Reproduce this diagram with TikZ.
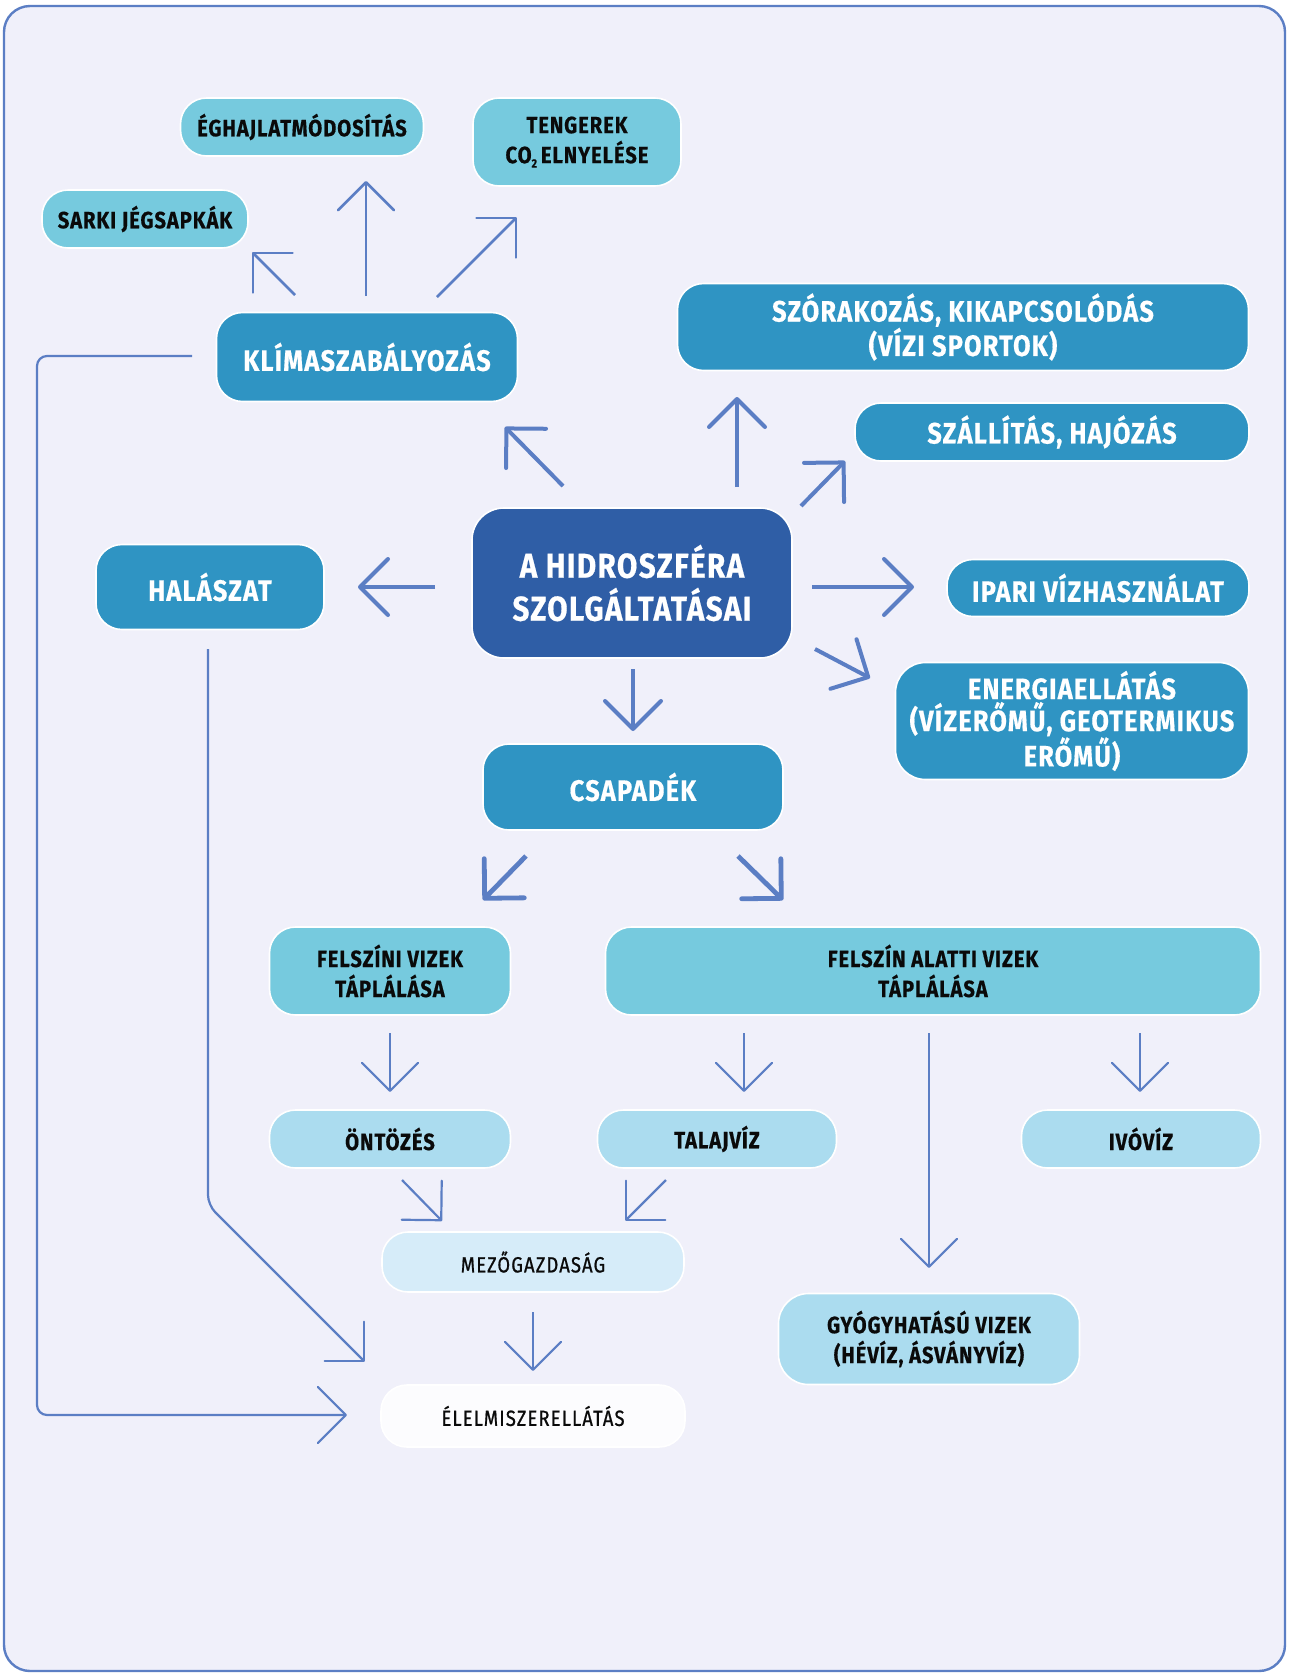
\documentclass[tikz,border=0pt]{standalone}
\usepackage{fontspec}
\setmainfont{Fira Sans}[FakeStretch=0.86, LetterSpace=4, FakeBold=0.5]
\newfontfamily\medf{Fira Sans}[FakeStretch=0.84, LetterSpace=5, FakeBold=0.8]
\usetikzlibrary{arrows.meta}
\definecolor{bg}{HTML}{F0F0FA}
\definecolor{ln}{HTML}{5B7EC4}
\definecolor{cdark}{HTML}{2F5EA6}
\definecolor{cmid}{HTML}{2F94C3}
\definecolor{cteal}{HTML}{76CADE}
\definecolor{clight}{HTML}{ABDCEF}
\definecolor{cpale}{HTML}{D6ECF9}
\definecolor{cwhite}{HTML}{FCFCFE}
\definecolor{ink}{HTML}{0A0A0A}
\tikzset{
  box/.style={draw=white, line width=1.6pt, rounded corners=26pt, align=center, inner sep=0pt},
  bw/.style={box, fill=cmid, text=white, font=\bfseries\fontsize{29.5}{32}\selectfont},
  bk/.style={box, fill=cteal, text=ink, font=\bfseries\fontsize{23.5}{30}\selectfont},
  bl/.style={box, fill=clight, text=ink, font=\bfseries\fontsize{23.5}{30}\selectfont},
  bm/.style={box, text=ink, font=\medf\fontsize{22}{30}\selectfont},
  arr/.style={draw=ln, -{Straight Barb[length=28pt, width=56pt, round]}},
  thinarr/.style={arr, line width=2.2pt},
  medarr/.style={arr, line width=2.6pt},
  bigarr/.style={arr, line width=4pt},
  fatarr/.style={arr, line width=4.8pt},
  conn/.style={thinarr, rounded corners=10pt}
}
\begin{document}
\begin{tikzpicture}[x=1pt, y=-1pt]
\useasboundingbox (0,0) rectangle (1290,1674);
\fill[white] (0,0) rectangle (1290,1674);
\draw[ln, line width=2.4pt, fill=bg, rounded corners=26pt] (4,6) rectangle (1285,1671);

% nodes
\node[bk, minimum width=243, minimum height=58] (egh) at (302,127) {ÉGHAJLATMÓDOSÍTÁS};
\node[bk, minimum width=208, minimum height=88] (teng) at (577,142) {TENGEREK\\CO\raisebox{-0.35ex}{\fontsize{12}{12}\selectfont 2}\,ELNYELÉSE};
\node[bk, minimum width=206, minimum height=58] (sarki) at (145,219) {SARKI JÉGSAPKÁK};
\node[bw, minimum width=301, minimum height=89] (klima) at (367,357) {KLÍMASZABÁLYOZÁS};
\node[bw, minimum width=571, minimum height=87] (szor) at (963,327) {SZÓRAKOZÁS, KIKAPCSOLÓDÁS\\(VÍZI SPORTOK)};
\node[bw, minimum width=394, minimum height=58] (szall) at (1052,432) {SZÁLLÍTÁS, HAJÓZÁS};
\node[box, fill=cdark, text=white, font=\bfseries\fontsize{34.5}{43}\selectfont, minimum width=320, minimum height=150, rounded corners=32pt] (hidro) at (632,583) {A HIDROSZFÉRA\\SZOLGÁLTATÁSAI};
\node[bw, minimum width=228, minimum height=85] (halasz) at (210,587) {HALÁSZAT};
\node[bw, minimum width=302, minimum height=57] (ipari) at (1098,588) {IPARI VÍZHASZNÁLAT};
\node[bw, minimum width=353, minimum height=117, rounded corners=30pt] (energia) at (1072,721) {ENERGIAELLÁTÁS\\(VÍZERŐMŰ, GEOTERMIKUS\\ERŐMŰ)};
\node[bw, minimum width=300, minimum height=86] (csap) at (633,787) {CSAPADÉK};
\node[bk, minimum width=241, minimum height=88] (felszini) at (390,971) {FELSZÍNI VIZEK\\TÁPLÁLÁSA};
\node[bk, minimum width=655, minimum height=88] (alatti) at (933,971) {FELSZÍN ALATTI VIZEK\\TÁPLÁLÁSA};
\node[bl, minimum width=241, minimum height=58] (ontoz) at (390,1139) {ÖNTÖZÉS};
\node[bl, minimum width=239, minimum height=58] (talaj) at (717,1139) {TALAJVÍZ};
\node[bl, minimum width=239, minimum height=58] (ivoviz) at (1141,1139) {IVÓVÍZ};
\node[bm, fill=cpale, minimum width=302, minimum height=60] (mezo) at (533,1262) {MEZŐGAZDASÁG};
\node[bl, minimum width=301, minimum height=91, rounded corners=30pt] (gyogy) at (929,1339) {GYÓGYHATÁSÚ VIZEK\\(HÉVÍZ, ÁSVÁNYVÍZ)};
\node[bm, fill=cwhite, minimum width=304, minimum height=62] (elelm) at (533,1416) {ÉLELMISZERELLÁTÁS};

% arrow end points
\coordinate (a1s) at (295,295); \coordinate (a1e) at (252,252);
\coordinate (a2s) at (366,296); \coordinate (a2e) at (366,181);
\coordinate (a3s) at (437,297); \coordinate (a3e) at (517,217);
\coordinate (c1s) at (563,486); \coordinate (c1e) at (505,427);
\coordinate (c2s) at (737,487); \coordinate (c2e) at (737,397);
\coordinate (c3s) at (801,506); \coordinate (c3e) at (845,461);
\coordinate (c4s) at (812,587); \coordinate (c4e) at (914,587);
\coordinate (c5s) at (815,649); \coordinate (c5e) at (870,678);
\coordinate (c6s) at (435,587); \coordinate (c6e) at (358,587);
\coordinate (c7s) at (633,669); \coordinate (c7e) at (633,731);
\coordinate (d1s) at (526,856); \coordinate (d1e) at (483,900);
\coordinate (d2s) at (738,856); \coordinate (d2e) at (783,900);
\coordinate (e1s) at (390,1033); \coordinate (e1e) at (390,1092);
\coordinate (e2s) at (744,1033); \coordinate (e2e) at (744,1092);
\coordinate (e3s) at (929,1033); \coordinate (e3e) at (929,1268);
\coordinate (e4s) at (1140,1033); \coordinate (e4e) at (1140,1092);
\coordinate (f1s) at (402,1180); \coordinate (f1e) at (442,1221);
\coordinate (f2s) at (666,1180); \coordinate (f2e) at (625,1221);
\coordinate (f3s) at (533,1312); \coordinate (f3e) at (533,1371);
\coordinate (g1s) at (192,356); \coordinate (g1a) at (37,356); \coordinate (g1b) at (37,1415); \coordinate (g1e) at (347,1415);
\coordinate (g2s) at (208,649); \coordinate (g2a) at (208,1205); \coordinate (g2e) at (365,1362);

% arrows
\draw[medarr] (a1s) -- (a1e);
\draw[medarr] (a2s) -- (a2e);
\draw[medarr] (a3s) -- (a3e);
\draw[bigarr] (c1s) -- (c1e);
\draw[bigarr] (c2s) -- (c2e);
\draw[bigarr] (c3s) -- (c3e);
\draw[bigarr] (c4s) -- (c4e);
\draw[bigarr] (c5s) -- (c5e);
\draw[bigarr] (c6s) -- (c6e);
\draw[bigarr] (c7s) -- (c7e);
\draw[fatarr] (d1s) -- (d1e);
\draw[fatarr] (d2s) -- (d2e);
\draw[thinarr] (e1s) -- (e1e);
\draw[thinarr] (e2s) -- (e2e);
\draw[thinarr] (e3s) -- (e3e);
\draw[thinarr] (e4s) -- (e4e);
\draw[thinarr] (f1s) -- (f1e);
\draw[thinarr] (f2s) -- (f2e);
\draw[thinarr] (f3s) -- (f3e);
\draw[conn] (g1s) -- (g1a) -- (g1b) -- (g1e);
\draw[conn] (g2s) -- (g2a) -- (g2e);
\end{tikzpicture}
\end{document}
